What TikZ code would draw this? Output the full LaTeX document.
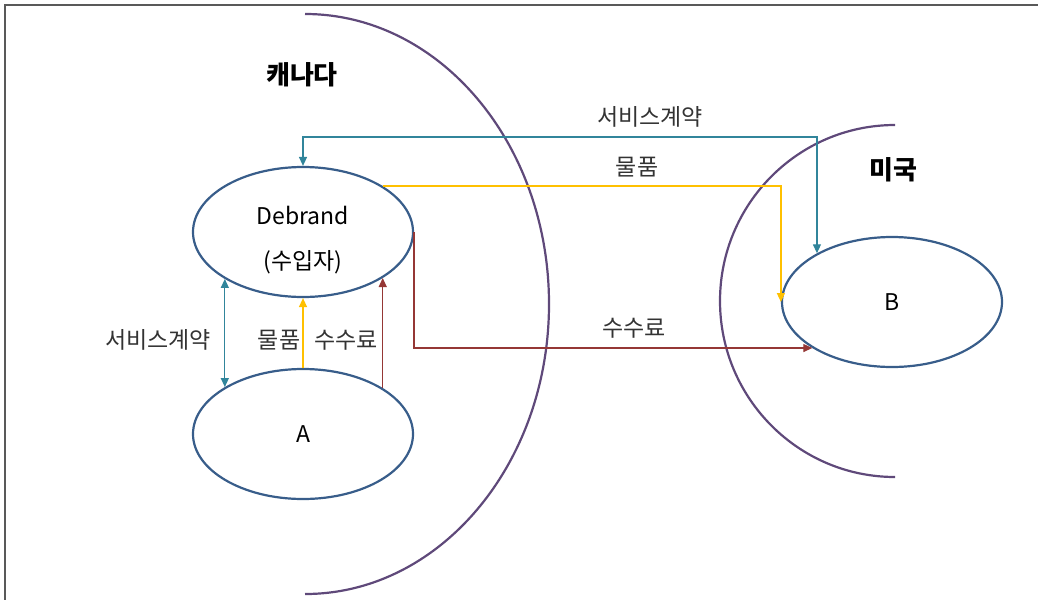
\documentclass[tikz,border=0pt]{standalone}
\usepackage{fontspec}
\setmainfont{Noto Sans CJK KR}
\usetikzlibrary{shapes.geometric,arrows.meta}

\definecolor{ovalblue}{RGB}{56,93,138}
\definecolor{arcpurple}{RGB}{95,73,122}
\definecolor{svcteal}{RGB}{49,133,155}
\definecolor{goodsyellow}{RGB}{255,192,0}
\definecolor{feered}{RGB}{149,55,53}

\begin{document}
\begin{tikzpicture}[x=1pt, y=1pt,
    oval/.style={ellipse, draw=ovalblue, line width=2.2pt, minimum width=220pt, minimum height=130pt, inner sep=0pt, align=center, font=\fontsize{23}{45}\selectfont},
    border/.style={draw=arcpurple, line width=2.2pt},
    flow/.style={line width=1.3pt, -{Triangle[length=9pt,width=8pt]}},
    lbl/.style={font=\fontsize{23}{26}\selectfont, text=black!80},
    country/.style={font=\fontsize{26}{30}\selectfont\bfseries}]
    \useasboundingbox (0,0) rectangle (1038,-600);

    % Moldura
    \draw[gray!70!black, line width=1.2pt] (1038,-5) -- (5,-5) -- (5,-600);

    % Fronteiras
    \draw[border] (305,-14) arc[start angle=90, end angle=-90, x radius=244, y radius=290];
    \draw[border] (895,-125) arc[start angle=90, end angle=270, x radius=175, y radius=176];
    \node[country] (canada) at (302,-75) {캐나다};
    \node[country] (usa) at (893,-170) {미국};

    % Empresas
    \node[oval] (deb) at (303,-232) {\rule{0pt}{35pt}Debrand\\(수입자)};
    \node[oval] (a) at (303,-434) {A};
    \node[oval] (b) at (892,-302) {B};

    % Fluxos entre Canada e EUA
    \coordinate (svc) at (560,-137);
    \draw[flow, svcteal, {Triangle[length=9pt,width=8pt]}-{Triangle[length=9pt,width=8pt]}] (deb.north) |- (svc) -| (b.147);
    \draw[flow, goodsyellow] (deb.30) -| (b.west);
    \draw[flow, feered] (deb.east) |- (b.210);
    \node[lbl] (svcl) at (650,-117) {서비스계약};
    \node[lbl] (goodsl) at (637,-167) {물품};
    \node[lbl] (feel) at (634,-328) {수수료};

    % Fluxos entre A e Debrand
    \draw[flow, svcteal, {Triangle[length=9pt,width=8pt]}-{Triangle[length=9pt,width=8pt]}] (deb.211) -- (a.149);
    \draw[flow, goodsyellow] (a.north) -- (deb.south);
    \draw[flow, feered] (a.30) -- (deb.-30);
    \node[lbl] (svcl2) at (158,-340) {서비스계약};
    \node[lbl] (goodsl2) at (279,-340) {물품};
    \node[lbl] (feel2) at (346,-340) {수수료};
\end{tikzpicture}
\end{document}
